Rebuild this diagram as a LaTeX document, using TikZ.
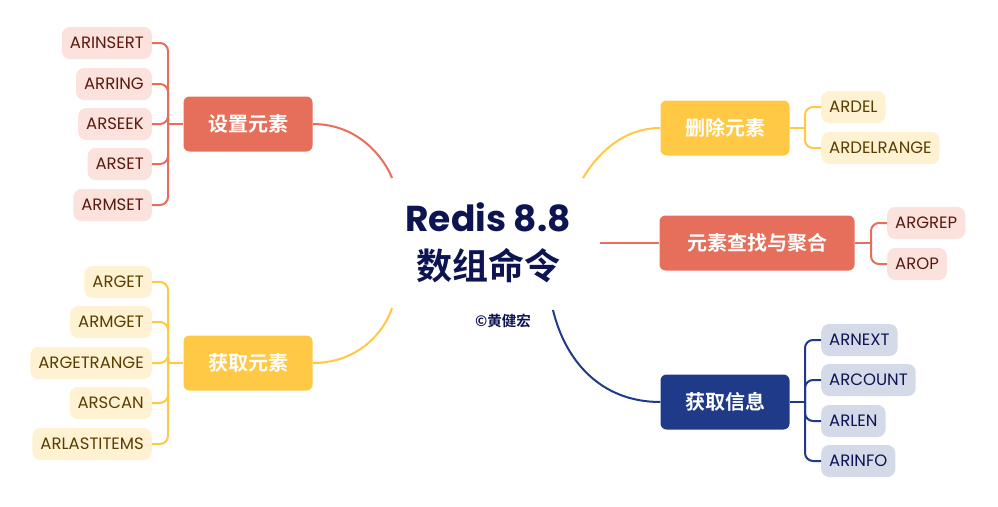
\documentclass[tikz,border=0pt]{standalone}
\usepackage{fontspec}
\setmainfont{Poppins}
\newfontfamily\cjkb{Noto Sans CJK SC Bold}
\definecolor{cor}{HTML}{E56F5A}
\definecolor{corl}{HTML}{FBE2DC}
\definecolor{cort}{HTML}{5A1A10}
\definecolor{yel}{HTML}{FFC845}
\definecolor{yell}{HTML}{FFF2D3}
\definecolor{yelt}{HTML}{5A3D00}
\definecolor{nav}{HTML}{1F3A88}
\definecolor{navl}{HTML}{D5DAE8}
\definecolor{navt}{HTML}{0D1452}
\definecolor{ttl}{HTML}{0D1452}
\begin{document}
\begin{tikzpicture}[x=1pt,y=-1pt,
 main/.style={rounded corners=6pt,minimum width=129pt,minimum height=55pt,text=white,font=\cjkb\fontsize{20}{22}\selectfont,inner sep=0pt},
 leaf/.style={rounded corners=8pt,minimum height=32pt,inner xsep=8pt,inner ysep=0pt,font=\fontsize{16.5}{18}\selectfont},
 lc/.style={leaf,fill=corl,text=cort},
 ly/.style={leaf,fill=yell,text=yelt},
 ln/.style={leaf,fill=navl,text=navt},
 ec/.style={draw=cor,line width=2pt},
 ey/.style={draw=yel,line width=2pt},
 en/.style={draw=nav,line width=2pt}]
\useasboundingbox (0,0) rectangle (998,506);
% center
\node (t1) at (488,217) {\fontsize{36}{40}\selectfont\bfseries\color{ttl}Redis 8.8};
\node (t2) at (488,266) {\cjkb\fontsize{36}{40}\selectfont\color{ttl}数组命令};
\node (t3) at (503,321) {\cjkb\fontsize{14.5}{16}\selectfont\color{ttl}©黄健宏};
\coordinate (c1) at (392,178);
\coordinate (c2) at (392,308);
\coordinate (c3) at (583,178);
\coordinate (c4) at (600,243);
\coordinate (c5) at (553,310);
% main nodes
\node[main,fill=cor] (m1) at (248,124) {设置元素};
\node[main,fill=yel] (m2) at (248,363) {获取元素};
\node[main,fill=yel] (m3) at (725,128) {删除元素};
\node[main,fill=cor,minimum width=195pt] (m4) at (757,243) {元素查找与聚合};
\node[main,fill=nav] (m5) at (725,402) {获取信息};
\draw[ec] (m1.east) .. controls (360,124) and (385,160) .. (c1);
\draw[ey] (m2.east) .. controls (360,363) and (385,330) .. (c2);
\draw[ey] (m3.west) .. controls (620,128) and (595,158) .. (c3);
\draw[ec] (m4.west) -- (c4);
\draw[en] (m5.west) .. controls (600,402) and (565,360) .. (c5);
% leaves left top
\node[lc,anchor=east] (a1) at (152,43) {ARINSERT};
\node[lc,anchor=east] (a2) at (152,84) {ARRING};
\node[lc,anchor=east] (a3) at (152,124) {ARSEEK};
\node[lc,anchor=east] (a4) at (152,164) {ARSET};
\node[lc,anchor=east] (a5) at (152,205) {ARMSET};
\coordinate (j1) at (168,124);
\draw[ec] (m1.west) -- (j1);
\foreach \n in {a1,a2,a3,a4,a5} \draw[ec,rounded corners=8pt] (\n.east) -| (j1);
% leaves left bottom
\node[ly,anchor=east] (b1) at (152,282) {ARGET};
\node[ly,anchor=east] (b2) at (152,322) {ARMGET};
\node[ly,anchor=east] (b3) at (152,363) {ARGETRANGE};
\node[ly,anchor=east] (b4) at (152,403) {ARSCAN};
\node[ly,anchor=east] (b5) at (152,444) {ARLASTITEMS};
\coordinate (j2) at (168,363);
\draw[ey] (m2.west) -- (j2);
\foreach \n in {b1,b2,b3,b4,b5} \draw[ey,rounded corners=8pt] (\n.east) -| (j2);
% right top
\node[ly,anchor=west] (d1) at (821,107) {ARDEL};
\node[ly,anchor=west] (d2) at (821,148) {ARDELRANGE};
\coordinate (j3) at (805,128);
\draw[ey] (m3.east) -- (j3);
\foreach \n in {d1,d2} \draw[ey,rounded corners=8pt] (\n.west) -| (j3);
% right mid
\node[lc,anchor=west] (g1) at (887,223) {ARGREP};
\node[lc,anchor=west] (g2) at (887,264) {AROP};
\coordinate (j4) at (871,243);
\draw[ec] (m4.east) -- (j4);
\foreach \n in {g1,g2} \draw[ec,rounded corners=8pt] (\n.west) -| (j4);
% right bottom
\node[ln,anchor=west] (n1) at (821,340) {ARNEXT};
\node[ln,anchor=west] (n2) at (821,380) {ARCOUNT};
\node[ln,anchor=west] (n3) at (821,421) {ARLEN};
\node[ln,anchor=west] (n4) at (821,461) {ARINFO};
\coordinate (j5) at (805,402);
\draw[en] (m5.east) -- (j5);
\foreach \n in {n1,n2,n3,n4} \draw[en,rounded corners=8pt] (\n.west) -| (j5);
\end{tikzpicture}
\end{document}
